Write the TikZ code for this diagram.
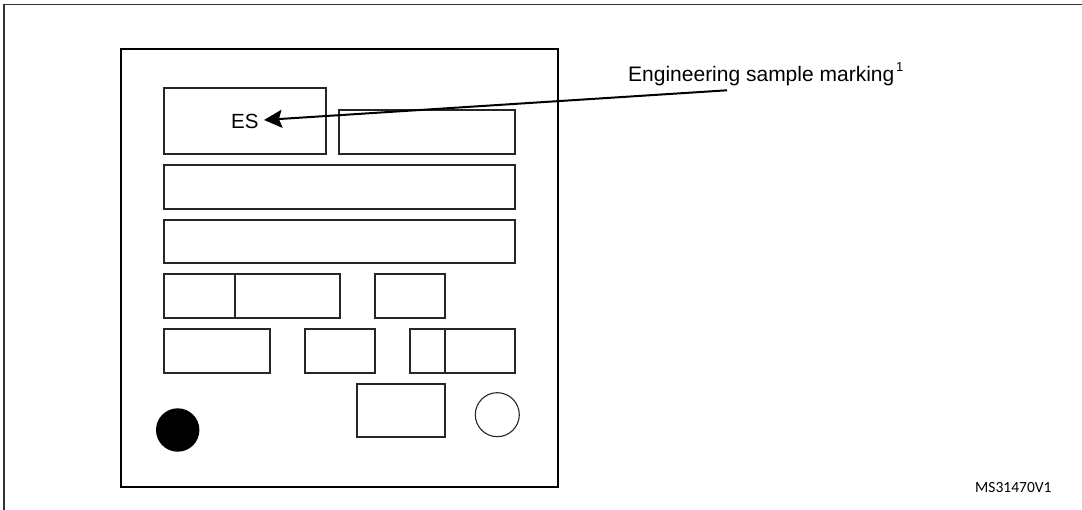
\documentclass[tikz,border=0pt]{standalone}
\usepackage{fontspec}
\setmainfont{Liberation Sans}
\newfontfamily\idfont{Carlito}
\usetikzlibrary{arrows.meta}
\tikzset{
  part/.style={draw=black!85, line width=1.1pt},
  chipframe/.style={draw=black, line width=2pt},
  frameline/.style={draw=black!80, line width=1.3pt},
  lbl/.style={font=\fontsize{21}{25}\selectfont, inner sep=0pt, anchor=base west},
}
\begin{document}
\begin{tikzpicture}[x=1pt,y=-1pt]
\useasboundingbox (0,0) rectangle (1082,510);
% outer figure frame (cut by the image edges)
\draw[frameline] (4,515) -- (4,4.5) -- (1087,4.5);
% package outline
\draw[chipframe] (121,49) rectangle (558,487);
% marking areas
\draw[part] (164,88) rectangle (326,154);
\draw[part] (339,110) rectangle (515,154);
\draw[part] (164,165) rectangle (515,209);
\draw[part] (164,220) rectangle (515,263);
\draw[part] (164,274) rectangle (340,318);
\draw[part] (235,274) -- (235,318);
\draw[part] (375,274) rectangle (445,318);
\draw[part] (164,329) rectangle (270,373);
\draw[part] (305,329) rectangle (375,373);
\draw[part] (410,329) rectangle (515,373);
\draw[part] (445,329) -- (445,373);
\draw[part] (357,384) rectangle (445,437);
\draw[part] (497.3,414.7) circle (22);
\fill[black] (177.7,430) circle (21.7);
% texts
\node[lbl, font=\fontsize{20.5}{24}\selectfont] (es) at (231,129) {ES};
\node[lbl] (mark) at (628,81.5) {Engineering sample marking};
\node[font=\fontsize{13}{15}\selectfont, inner sep=0pt, anchor=base west] (sup) at ([xshift=1.5pt]mark.base east |- 0,71.5) {1};
\node[font=\idfont\fontsize{15.5}{18}\selectfont, inner sep=0pt, anchor=base west] (ms) at (975,492) {MS31470V1};
% arrow
\coordinate (astart) at (727,90.3);
\coordinate (aend) at (264,120);
\draw[line width=2pt, -{Stealth[length=18pt,width=18pt,inset=3pt]}] (astart) -- (aend);
\end{tikzpicture}
\end{document}
